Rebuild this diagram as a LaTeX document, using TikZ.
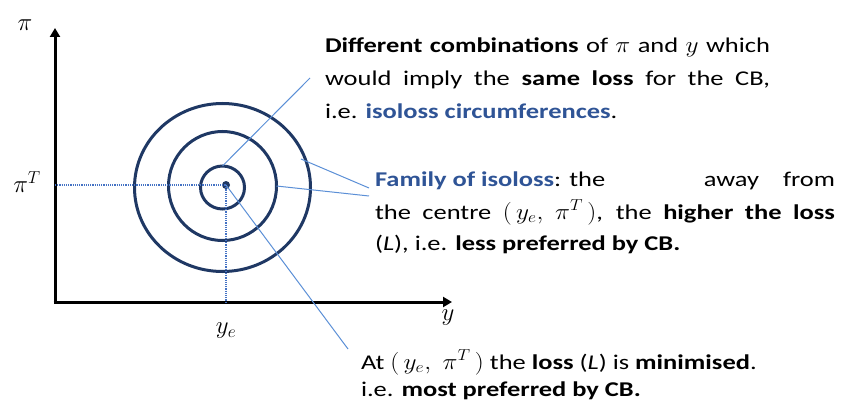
\documentclass[tikz,border=0pt]{standalone}
\usepackage{fontspec}
\usepackage{graphicx}
\setmainfont{Carlito}[FakeStretch=1.26]
\usetikzlibrary{arrows.meta,shapes.geometric}
\definecolor{ring}{RGB}{31,56,100}
\definecolor{tblue}{RGB}{47,84,150}
\definecolor{lead}{RGB}{91,143,214}
\definecolor{dotb}{RGB}{68,114,196}
\newcommand\mth[1]{\scalebox{1.22}[1.1]{$#1$}}
\tikzset{
  axis/.style={line width=3pt, -{Triangle[length=9pt,width=10pt]}},
  ringe/.style={draw=ring, line width=3pt, ellipse, inner sep=0pt, outer sep=0pt},
  txt/.style={anchor=base west, inner sep=0pt, outer sep=0pt, font=\fontsize{21}{25}\selectfont},
  mlab/.style={inner sep=0pt, font=\fontsize{26}{30}\selectfont},
  leader/.style={draw=lead, line width=1pt},
  guide/.style={draw=dotb, line width=1.2pt, densely dotted}
}
\begin{document}
\begin{tikzpicture}[x=1pt,y=-1pt]
\useasboundingbox (0,0) rectangle (841,412);
% axes
\coordinate (O) at (55,302);
\coordinate (ytop) at (55,28);
\coordinate (xend) at (452,302);
\draw[axis] ([xshift=-1.5pt]O) -- (xend);
\draw[axis] ([yshift=1.5pt]O) -- (ytop);
% axis labels
\node[mlab] (lpi) at (25,25) {$\pi$};
\node[mlab] (lpiT) at (27,182) {$\pi^T$};
\node[mlab] (lye) at (226,331) {$y_e$};
\node[mlab] (ly) at (448,318) {$y$};
% rings
\node[ringe, minimum width=176pt, minimum height=168pt] (outer) at (222.5,187.5) {};
\node[ringe, minimum width=108pt, minimum height=109pt] (mid) at (222.5,186) {};
\node[ringe, minimum width=44pt, minimum height=43pt] (inner) at (222.5,187.5) {};
% guides
\coordinate (gy) at (55,185);
\coordinate (gx) at (226,302);
\node[circle, fill=ring, minimum size=8pt, inner sep=0pt] (ctr) at (226,185) {};
\draw[guide] (gy) -- (ctr.center);
\draw[guide] (ctr.center) -- (gx);
% text blocks
\node[txt] (t1) at (325,53) {\makebox[445pt][s]{\textbf{Different combinations} of \mth{\pi} and \mth{y} which}};
\node[txt] (t2) at (325,85) {\makebox[445pt][s]{would imply the \textbf{same loss} for the CB,}};
\node[txt] (t3) at (325,118) {i.e. \textcolor{tblue}{\textbf{isoloss circumferences}}.};
\node[txt] (f1) at (375,186) {\makebox[460pt][l]{\textcolor{tblue}{\textbf{Family of isoloss}}: the\hfill away\hspace{24pt}from}};
\node[txt] (f2) at (375,219) {\makebox[460pt][s]{the centre \mth{(\,y_e,\ \pi^T\,)}, the \textbf{higher the loss}}};
\node[txt] (f3) at (375,250) {(\textit{L}), i.e. \textbf{less preferred by CB.}};
\node[txt] (b1) at (361,369) {At \mth{(\,y_e,\ \pi^T\,)} the \textbf{loss} (\textit{L}) is \textbf{minimised}.};
\node[txt] (b2) at (361,396) {i.e. \textbf{most preferred by CB.}};
% leaders
\coordinate (ta) at (310,78);
\coordinate (s2) at (301,159);
\coordinate (fa) at (369,188);
\coordinate (fb) at (369,196);
\coordinate (ba) at (348,349);
\draw[leader] (inner.north) -- (ta);
\draw[leader] (s2) -- (fa);
\draw[leader] (mid.east) -- (fb);
\draw[leader] (ctr.center) -- (ba);
\end{tikzpicture}
\end{document}
